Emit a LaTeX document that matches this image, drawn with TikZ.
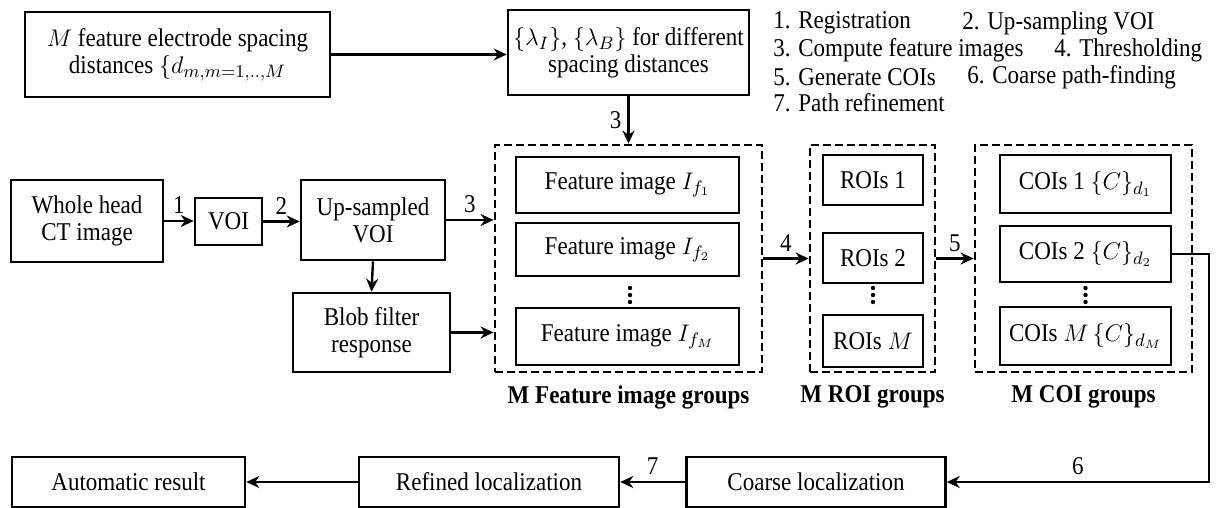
\documentclass[tikz,border=0pt]{standalone}
\usepackage{amsmath}
\usepackage{amssymb}
\usepackage{fontspec}
\setmainfont{Liberation Serif}[FakeStretch=0.9]
\usepackage{tikz}
\usetikzlibrary{arrows.meta, positioning, calc}

\begin{document}
\begin{tikzpicture}[x=0.5pt, y=-0.5pt,
  font=\fontsize{12.8}{13.5}\selectfont,
  blk/.style={draw, line width=1.3pt, align=center, inner sep=1pt},
  grp/.style={draw, line width=1.4pt, dash pattern=on 4pt off 2pt, inner sep=0pt},
  arr/.style={-{Stealth[length=6.5pt,width=6pt]}, line width=1.2pt},
  grpcap/.style={font=\fontsize{12.8}{13.5}\selectfont\bfseries, inner sep=2pt},
  legtxt/.style={anchor=west, inner sep=0pt},
  num/.style={inner sep=3pt}]
\useasboundingbox (0,0) rectangle (1217,508);

% Spacing distances and parameters
\node[blk, minimum width=152.5pt, minimum height=42.5pt] (spc) at (177.5,54.5)
  {$M$ feature electrode spacing\\ distances $\{d_{m,m=1,..,M}$};
\node[blk, minimum width=120.5pt, minimum height=42.5pt] (lam) at (628.5,52.5)
  {$\{\lambda_I\}$, $\{\lambda_B\}$ for different\\ spacing distances};
\draw[arr] (spc.east) -- (spc.east -| lam.west);

% Steps legend
\node[legtxt] (leg1) at (773,23) {1. Registration};
\node[legtxt] (leg2) at (962,23) {2. Up-sampling VOI};
\node[legtxt] (leg3) at (773,50) {3. Compute feature images};
\node[legtxt] (leg4) at (1054,50) {4. Thresholding};
\node[legtxt] (leg5) at (773,77) {5. Generate COIs};
\node[legtxt] (leg6) at (967,77) {6. Coarse path-finding};
\node[legtxt] (leg7) at (773,103) {7. Path refinement};

% Input stage
\node[blk, minimum width=76pt, minimum height=41pt] (head) at (87,221) {Whole head\\ CT image};
\node[blk, minimum width=33.5pt, minimum height=23.5pt] (voi) at (228.5,221.5) {VOI};
\node[blk, minimum width=72pt, minimum height=40pt] (up) at (373,220) {Up-sampled\\ VOI};
\node[blk, minimum width=78.5pt, minimum height=39.5pt] (blob) at (371.5,332.5) {Blob filter\\ response};
\draw[arr] (head.east) -- (head.east -| voi.west) node[midway, above, num] (n1) {1};
\draw[arr] (voi.east) -- (voi.east -| up.west) node[midway, above, num] (n2) {2};
\draw[arr] (up.south) -- (blob.north);

% Feature images
\node[grp, minimum width=133.5pt, minimum height=113.5pt] (fgrp) at (628.5,258.5) {};
\node[blk, minimum width=111.5pt, minimum height=28pt] (f1) at (627.5,185) {Feature image $I_{f_1}$};
\node[blk, minimum width=111.5pt, minimum height=26.5pt] (f2) at (627.5,249.5) {Feature image $I_{f_2}$};
\node[blk, minimum width=111.5pt, minimum height=28.5pt] (fM) at (627.5,336.5) {Feature image $I_{f_M}$};
\node[grpcap, below=4pt of fgrp] (fcap) {M Feature image groups};
\draw[arr] (up.east) -- (up.east -| fgrp.west) node[midway, above, num] (n3) {3};
\draw[arr] (blob.east) -- (blob.east -| fgrp.west);
\draw[arr] (lam.south) -- (lam.south |- fgrp.north) node[midway, left, num] (n3b) {3};

% ROIs
\node[grp, minimum width=62.5pt, minimum height=113.5pt] (rgrp) at (872.5,258.5) {};
\node[blk, minimum width=50pt, minimum height=25pt] (r1) at (873,180) {ROIs 1};
\node[blk, minimum width=50pt, minimum height=25pt] (r2) at (873,258) {ROIs 2};
\node[blk, minimum width=50pt, minimum height=26pt] (rM) at (873,341) {ROIs $M$};
\node[grpcap, below=4pt of rgrp] (rcap) {M ROI groups};
\draw[arr] (fgrp.east) -- (rgrp.west) node[midway, above, num] (n4) {4};

% COIs
\node[grp, minimum width=108.5pt, minimum height=113.5pt] (cgrp) at (1083.5,258.5) {};
\node[blk, minimum width=85.5pt, minimum height=29pt] (c1) at (1085.5,184) {COIs 1 $\{C\}_{d_1}$};
\node[blk, minimum width=85.5pt, minimum height=28pt] (c2) at (1085.5,254) {COIs 2 $\{C\}_{d_2}$};
\node[blk, minimum width=85.5pt, minimum height=29pt] (cM) at (1085.5,336) {COIs $M\,\{C\}_{d_M}$};
\node[grpcap, below=4pt of cgrp] (ccap) {M COI groups};
\draw[arr] (rgrp.east) -- (cgrp.west) node[midway, above, num] (n5) {5};

% vertical dots between the last two boxes of each group
\foreach \x in {630,873,1085.5}
  \foreach \y in {288,295,302}
    \fill (\x,\y) circle (1.1pt);

% Localization
\node[blk, minimum width=116.5pt, minimum height=25pt] (auto) at (128.5,482) {Automatic result};
\node[blk, minimum width=130pt, minimum height=25pt] (ref) at (489,482) {Refined localization};
\node[blk, minimum width=129.5pt, minimum height=25pt] (coarse) at (816,482) {Coarse localization};
\coordinate (turn) at (1209,254);
\draw[arr] (c2.east) -- (turn) |- (coarse.east) node[pos=0.75, above, num] (n6) {6};
\draw[arr] (coarse.west) -- (ref.east) node[midway, above, num] (n7) {7};
\draw[arr] (ref.west) -- (auto.east);
\end{tikzpicture}
\end{document}
